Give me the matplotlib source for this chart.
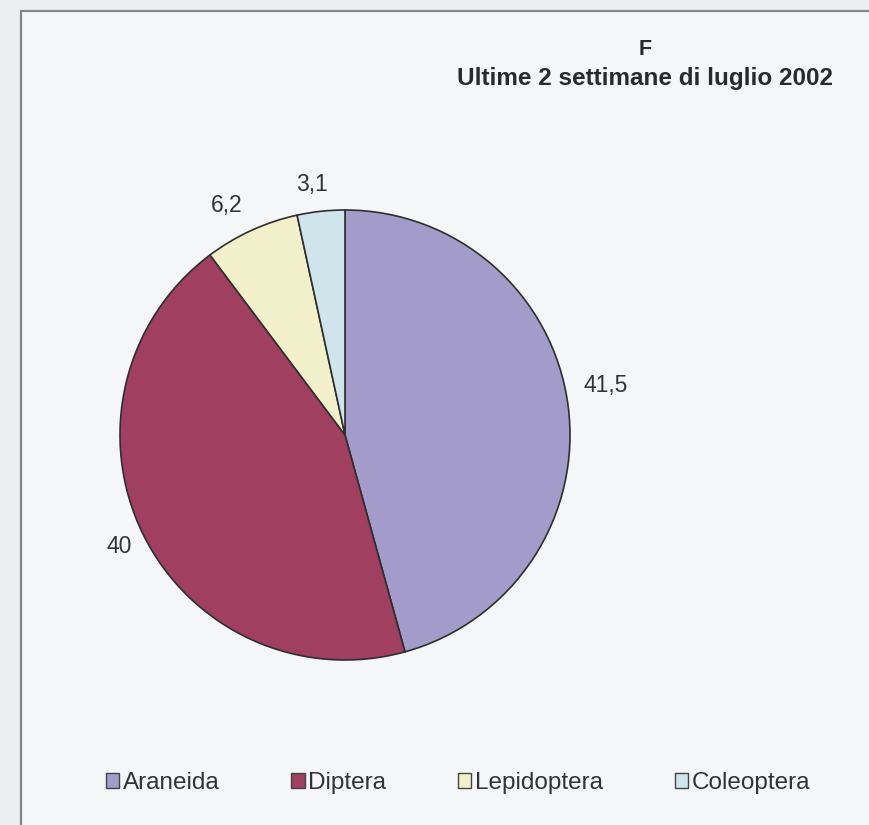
import matplotlib
matplotlib.use("Agg")
import matplotlib.pyplot as plt
from matplotlib.patches import Patch, Rectangle

# Catture per ordine, ultime 2 settimane di luglio 2002
categories = ["Araneida", "Diptera", "Lepidoptera", "Coleoptera"]
values = [41.5, 40.0, 6.2, 3.1]
value_labels = ["41,5", "40", "6,2", "3,1"]
colors = ["#a39ccb", "#a03f60", "#f2f0cb", "#cfe4eb"]

plt.rcParams["font.family"] = ["Liberation Sans", "DejaVu Sans"]

fig = plt.figure(figsize=(8.7, 8.25), dpi=100)
fig.patch.set_facecolor("#eceef0")

# chart area frame (runs off the right and bottom edges)
frame = Rectangle((21 / 870, -0.05), 1.0, 1 - 11 / 825 + 0.05,
                  transform=fig.transFigure, facecolor="#f5f6f8",
                  edgecolor="#858585", linewidth=1.6, zorder=-1)
fig.patches.append(frame)

ax = fig.add_axes([120 / 870, 165 / 825, 450 / 870, 450 / 825], zorder=2)
wedges, texts = ax.pie(
    values,
    labels=value_labels,
    colors=colors,
    startangle=90,
    counterclock=False,
    labeldistance=1.1,
    wedgeprops=dict(edgecolor="#2e2e2e", linewidth=1.2),
    textprops=dict(fontsize=16.5, color="#333333"),
)
# small nudges so the value labels sit like Excel's outside labels
nudges = [(-0.03, 0.07), (0.04, -0.01), (0.0, 0.02), (0.04, 0.02)]
for t, (dx, dy) in zip(texts, nudges):
    x, y = t.get_position()
    t.set_position((x + dx, y + dy))

ax.set_xlim(-1, 1)
ax.set_ylim(-1, 1)
ax.set_aspect("equal")
ax.axis("off")

fig.text(645 / 870, 1 - 55 / 825, "F", ha="center", va="baseline",
         fontsize=15.5, fontweight="bold", color="#2a2a2a")
fig.text(645 / 870, 1 - 85 / 825, "Ultime 2 settimane di luglio 2002",
         ha="center", va="baseline", fontsize=17.5, fontweight="bold",
         color="#2a2a2a")

handles = [Patch(facecolor=c, edgecolor="#444444", linewidth=1.0) for c in colors]
fig.legend(handles, categories, loc="center", ncol=4,
           bbox_to_anchor=(458 / 870, 1 - 783 / 825),
           frameon=False, fontsize=17.5, handlelength=0.55, handleheight=0.55,
           handletextpad=0.15, columnspacing=2.95,
           labelcolor="#333333")

fig.savefig("out.png", dpi=100, facecolor=fig.get_facecolor())
